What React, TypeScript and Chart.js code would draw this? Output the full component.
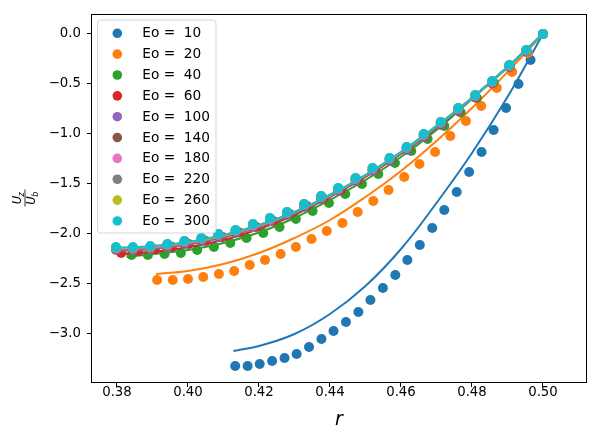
import { useEffect, useRef } from "react";
import { Chart, registerables, Plugin } from "chart.js";

Chart.register(...registerables);

const eoValues = [10, 20, 40, 60, 100, 140, 180, 220, 260, 300];
const colors = [
  "#1f77b4", "#ff7f0e", "#2ca02c", "#d62728", "#9467bd",
  "#8c564b", "#e377c2", "#7f7f7f", "#bcbd22", "#17becf",
];

// measured points (r, Uz/Ub)
const rEo10 = [0.4133, 0.4168, 0.4202, 0.4237, 0.4272, 0.4306, 0.4341, 0.4376, 0.441, 0.4445, 0.448, 0.4514, 0.4549, 0.4584, 0.4618, 0.4653, 0.4688, 0.4722, 0.4757, 0.4792, 0.4827, 0.4861, 0.4896, 0.4931, 0.4965, 0.5];
const uEo10 = [-3.32, -3.32, -3.3, -3.27, -3.24, -3.2, -3.13, -3.05, -2.97, -2.88, -2.78, -2.66, -2.54, -2.41, -2.26, -2.11, -1.94, -1.76, -1.58, -1.38, -1.18, -0.96, -0.74, -0.5, -0.26, 0];

const rEo20 = [0.3913, 0.3957, 0.4, 0.4043, 0.4087, 0.413, 0.4174, 0.4217, 0.4261, 0.4304, 0.4348, 0.4391, 0.4435, 0.4478, 0.4522, 0.4565, 0.4609, 0.4652, 0.4696, 0.4739, 0.4783, 0.4826, 0.487, 0.4913, 0.4957, 0.5];
const uEo20 = [-2.46, -2.46, -2.45, -2.43, -2.4, -2.37, -2.31, -2.26, -2.2, -2.13, -2.05, -1.97, -1.89, -1.78, -1.67, -1.56, -1.43, -1.3, -1.18, -1.02, -0.87, -0.72, -0.54, -0.38, -0.19, 0];

const rEo40 = [0.3841, 0.3887, 0.3934, 0.398, 0.4026, 0.4073, 0.4119, 0.4165, 0.4212, 0.4258, 0.4304, 0.4351, 0.4397, 0.4443, 0.449, 0.4536, 0.4583, 0.4629, 0.4675, 0.4722, 0.4768, 0.4814, 0.4861, 0.4907, 0.4954, 0.5];
const uEo40 = [-2.21, -2.21, -2.2, -2.19, -2.16, -2.13, -2.09, -2.04, -1.99, -1.93, -1.85, -1.77, -1.69, -1.6, -1.5, -1.4, -1.29, -1.17, -1.05, -0.92, -0.785, -0.64, -0.485, -0.325, -0.165, 0];

const rEo60 = [0.3812, 0.386, 0.3907, 0.3955, 0.4002, 0.405, 0.4097, 0.4145, 0.4192, 0.424, 0.4287, 0.4335, 0.4382, 0.443, 0.4477, 0.4525, 0.4572, 0.462, 0.4667, 0.4715, 0.4762, 0.481, 0.4857, 0.4905, 0.4952, 0.5];
const uEo60 = [-2.19, -2.17, -2.155, -2.13, -2.1, -2.07, -2.03, -1.985, -1.93, -1.87, -1.8, -1.72, -1.645, -1.565, -1.465, -1.36, -1.26, -1.15, -1.03, -0.9, -0.77, -0.635, -0.495, -0.33, -0.175, 0];

// Eo >= 100 share the same radial positions
const rLarge = [0.3797, 0.3845, 0.3894, 0.3942, 0.399, 0.4038, 0.4086, 0.4134, 0.4183, 0.4231, 0.4279, 0.4327, 0.4375, 0.4423, 0.4472, 0.452, 0.4568, 0.4616, 0.4664, 0.4712, 0.4761, 0.4809, 0.4857, 0.4905, 0.4953, 0.5];
const uEo100 = [-2.16, -2.16, -2.15, -2.13, -2.1, -2.07, -2.03, -1.99, -1.93, -1.87, -1.81, -1.73, -1.65, -1.57, -1.47, -1.37, -1.27, -1.16, -1.03, -0.91, -0.77, -0.635, -0.49, -0.325, -0.17, 0];
const uEo140 = [-2.15, -2.15, -2.14, -2.12, -2.09, -2.06, -2.02, -1.98, -1.92, -1.86, -1.8, -1.72, -1.64, -1.56, -1.46, -1.36, -1.26, -1.15, -1.02, -0.9, -0.76, -0.63, -0.485, -0.32, -0.165, 0];
const uEo180 = [-2.145, -2.145, -2.135, -2.11, -2.08, -2.05, -2.01, -1.97, -1.915, -1.855, -1.79, -1.71, -1.63, -1.55, -1.45, -1.35, -1.25, -1.14, -1.01, -0.89, -0.75, -0.62, -0.48, -0.32, -0.165, 0];
const uEo220 = [-2.14, -2.14, -2.13, -2.105, -2.075, -2.045, -2.005, -1.965, -1.905, -1.845, -1.785, -1.705, -1.625, -1.545, -1.445, -1.345, -1.245, -1.135, -1.005, -0.885, -0.745, -0.615, -0.475, -0.315, -0.16, 0];
const uEo260 = [-2.135, -2.135, -2.125, -2.1, -2.07, -2.04, -2.0, -1.96, -1.9, -1.84, -1.78, -1.7, -1.62, -1.54, -1.44, -1.34, -1.24, -1.13, -1.0, -0.88, -0.74, -0.61, -0.47, -0.31, -0.16, 0];
const uEo300 = [-2.13, -2.13, -2.12, -2.1, -2.07, -2.04, -2.0, -1.96, -1.9, -1.84, -1.78, -1.7, -1.62, -1.54, -1.44, -1.34, -1.24, -1.13, -1.0, -0.88, -0.74, -0.61, -0.47, -0.31, -0.16, 0];

// model curves
const lineREo10 = [0.4128, 0.42, 0.43, 0.44, 0.45, 0.46, 0.47, 0.48, 0.49, 0.5];
const lineUEo10 = [-3.17, -3.12, -3.0, -2.8, -2.52, -2.15, -1.69, -1.19, -0.63, 0];
const lineREo20 = [0.391, 0.4, 0.41, 0.42, 0.43, 0.44, 0.45, 0.46, 0.47, 0.48, 0.49, 0.5];
const lineUEo20 = [-2.4, -2.37, -2.3, -2.19, -2.04, -1.86, -1.63, -1.37, -1.07, -0.74, -0.38, 0];
const lineREo40 = [0.3827, 0.39, 0.4, 0.41, 0.42, 0.43, 0.44, 0.45, 0.46, 0.47, 0.48, 0.49, 0.5];
const lineUEo40 = [-2.23, -2.2, -2.16, -2.09, -1.985, -1.84, -1.66, -1.46, -1.23, -0.96, -0.65, -0.335, 0];
const lineREo60 = [0.3805, 0.39, 0.4, 0.41, 0.42, 0.43, 0.44, 0.45, 0.46, 0.47, 0.48, 0.49, 0.5];
const lineUEo60 = [-2.2, -2.18, -2.13, -2.06, -1.95, -1.81, -1.63, -1.43, -1.2, -0.94, -0.645, -0.33, 0];
const lineRLarge = [0.3795, 0.39, 0.4, 0.41, 0.42, 0.43, 0.44, 0.45, 0.46, 0.47, 0.48, 0.49, 0.5];
const lineUEo100 = [-2.17, -2.15, -2.105, -2.035, -1.93, -1.795, -1.62, -1.42, -1.19, -0.93, -0.64, -0.33, 0];
const lineUEo140 = [-2.16, -2.14, -2.095, -2.025, -1.925, -1.79, -1.615, -1.415, -1.185, -0.925, -0.64, -0.33, 0];
const lineUEo180 = [-2.155, -2.135, -2.09, -2.02, -1.92, -1.785, -1.615, -1.415, -1.185, -0.925, -0.64, -0.33, 0];
const lineUEo220 = [-2.15, -2.13, -2.085, -2.015, -1.915, -1.785, -1.61, -1.41, -1.18, -0.92, -0.64, -0.33, 0];
const lineUEo260 = [-2.145, -2.125, -2.085, -2.015, -1.915, -1.78, -1.61, -1.41, -1.18, -0.92, -0.64, -0.33, 0];
const lineUEo300 = [-2.14, -2.12, -2.08, -2.01, -1.91, -1.78, -1.61, -1.41, -1.18, -0.92, -0.64, -0.33, 0];

const xTicks = { min: 0.37268, max: 0.5124, step: 0.02 };
const yTicks = { min: -3.49, max: 0.2, step: 0.5 };

const series = [
  { r: rEo10, u: uEo10, lr: lineREo10, lu: lineUEo10 },
  { r: rEo20, u: uEo20, lr: lineREo20, lu: lineUEo20 },
  { r: rEo40, u: uEo40, lr: lineREo40, lu: lineUEo40 },
  { r: rEo60, u: uEo60, lr: lineREo60, lu: lineUEo60 },
  { r: rLarge, u: uEo100, lr: lineRLarge, lu: lineUEo100 },
  { r: rLarge, u: uEo140, lr: lineRLarge, lu: lineUEo140 },
  { r: rLarge, u: uEo180, lr: lineRLarge, lu: lineUEo180 },
  { r: rLarge, u: uEo220, lr: lineRLarge, lu: lineUEo220 },
  { r: rLarge, u: uEo260, lr: lineRLarge, lu: lineUEo260 },
  { r: rLarge, u: uEo300, lr: lineRLarge, lu: lineUEo300 },
];

const FONT = "'DejaVu Sans', sans-serif";

const overlay: Plugin<"scatter"> = {
  id: "overlay",
  afterDatasetsDraw(chart) {
    const { ctx, chartArea: a } = chart;
    ctx.save();
    ctx.strokeStyle = "#000";
    ctx.lineWidth = 1;
    ctx.strokeRect(a.left + 0.5, a.top + 0.5, a.right - a.left - 1, a.bottom - a.top - 1);
    ctx.restore();
  },
  afterDraw(chart) {
    const ctx = chart.ctx;
    // legend
    ctx.save();
    const bx = 97.5, by = 20, bw = 118.5, bh = 213, rad = 3;
    ctx.beginPath();
    ctx.roundRect(bx, by, bw, bh, rad);
    ctx.fillStyle = "rgba(255,255,255,0.8)";
    ctx.fill();
    ctx.strokeStyle = "rgba(204,204,204,0.8)";
    ctx.lineWidth = 1;
    ctx.stroke();
    ctx.font = `13.7px ${FONT}`;
    ctx.textBaseline = "middle";
    ctx.textAlign = "left";
    eoValues.forEach((eo, i) => {
      const y = 33.3 + i * 20.85;
      ctx.beginPath();
      ctx.arc(117.3, y, 4.8, 0, Math.PI * 2);
      ctx.fillStyle = colors[i];
      ctx.fill();
      ctx.fillStyle = "#000";
      ctx.fillText(`Eo =  ${eo}`, 142.3, y + 0.5);
    });
    ctx.restore();

    // y label: Uz / Ub fraction, rotated
    ctx.save();
    ctx.translate(25, 198);
    ctx.rotate(-Math.PI / 2);
    ctx.fillStyle = "#000";
    ctx.textBaseline = "alphabetic";
    ctx.textAlign = "left";
    const big = `italic 11.5px ${FONT}`;
    const small = `italic 8px ${FONT}`;
    const drawU = (sub: string, base: number) => {
      ctx.font = big;
      const wU = ctx.measureText("U").width;
      ctx.font = small;
      const wS = ctx.measureText(sub).width;
      const x0 = -(wU + wS) / 2;
      ctx.font = big;
      ctx.fillText("U", x0, base);
      ctx.font = small;
      ctx.fillText(sub, x0 + wU - 0.5, base + 2.5);
    };
    drawU("z", -4);
    drawU("b", 10);
    ctx.strokeStyle = "#000";
    ctx.lineWidth = 0.8;
    ctx.beginPath();
    ctx.moveTo(-8.5, 0);
    ctx.lineTo(8.5, 0);
    ctx.stroke();
    ctx.restore();
  },
};

const fmt = (v: number, d: number) =>
  (v < -1e-9 ? "\u2212" : "") + Math.abs(v).toFixed(d);

export default function App() {
  const canvasRef = useRef<HTMLCanvasElement>(null);

  useEffect(() => {
    if (!canvasRef.current) return;

    const datasets: any[] = [];
    let k = 0;
    series.forEach((s, i) => {
      datasets.push({
        type: "scatter",
        label: `Eo =  ${eoValues[i]}`,
        data: s.r.map((r, j) => ({ x: r, y: s.u[j] })),
        backgroundColor: colors[i],
        borderColor: colors[i],
        borderWidth: 0,
        pointRadius: 5,
        pointHoverRadius: 5,
        order: -k++,
      });
      datasets.push({
        type: "line",
        label: `fit ${eoValues[i]}`,
        data: s.lr.map((r, j) => ({ x: r, y: s.lu[j] })),
        borderColor: colors[i],
        borderWidth: 2,
        pointRadius: 0,
        fill: false,
        tension: 0.4,
        order: -k++,
      });
    });

    const chart = new Chart(canvasRef.current, {
      type: "scatter",
      data: { datasets },
      options: {
        responsive: false,
        animation: false,
        events: [],
        layout: { padding: { left: 0, right: 13, top: 13, bottom: 0 } },
        plugins: {
          legend: { display: false },
          tooltip: { enabled: false },
        },
        scales: {
          x: {
            type: "linear",
            min: xTicks.min,
            max: xTicks.max,
            afterFit: (scale: any) => {
              scale.height = 57;
            },
            grid: {
              drawOnChartArea: false,
              color: "#000",
              tickLength: 4,
              lineWidth: 1,
            },
            border: { display: false },
            ticks: {
              stepSize: xTicks.step,
              includeBounds: false,
              color: "#000",
              font: { family: FONT, size: 13.3 },
              padding: -2,
              maxRotation: 0,
              callback: (v: any) => fmt(Number(v), 2),
            },
            title: {
              display: true,
              text: "r",
              color: "#000",
              font: { family: FONT, size: 19, style: "italic" },
              padding: { top: 2, bottom: 8.5 },
            },
          },
          y: {
            type: "linear",
            min: yTicks.min,
            max: yTicks.max,
            afterFit: (scale: any) => {
              scale.width = 91;
            },
            grid: {
              drawOnChartArea: false,
              color: "#000",
              tickLength: 4,
              lineWidth: 1,
            },
            border: { display: false },
            ticks: {
              stepSize: yTicks.step,
              includeBounds: false,
              color: "#000",
              font: { family: FONT, size: 13.3 },
              padding: 6,
              callback: (v: any) => fmt(Number(v), 1),
            },
          },
        },
      },
      plugins: [overlay],
    });

    return () => {
      chart.destroy();
    };
  }, []);

  return (
    <div style={{ position: "absolute", left: 0, top: 0, width: 600, height: 440, background: "#fff" }}>
      <canvas ref={canvasRef} width={600} height={440} style={{ display: "block" }} />
    </div>
  );
}
